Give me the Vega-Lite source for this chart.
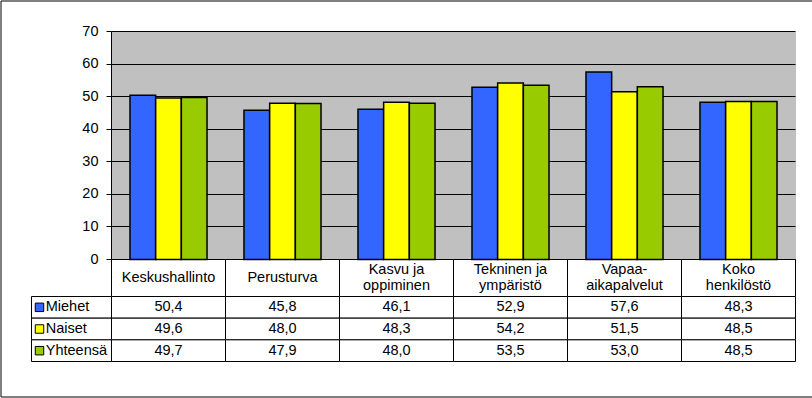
{
  "$schema": "https://vega.github.io/schema/vega-lite/v6.json",
  "width": 811.5,
  "height": 396,
  "autosize": {"type": "none"},
  "padding": {"left": 0.5, "top": 0.5, "right": 0, "bottom": 1.5},
  "background": "white",
  "data": {
    "values": [
      {"category": "Keskushallinto", "series": "Miehet", "value": 50.4},
      {"category": "Keskushallinto", "series": "Naiset", "value": 49.6},
      {"category": "Keskushallinto", "series": "Yhteensä", "value": 49.7},
      {"category": "Perusturva", "series": "Miehet", "value": 45.8},
      {"category": "Perusturva", "series": "Naiset", "value": 48.0},
      {"category": "Perusturva", "series": "Yhteensä", "value": 47.9},
      {"category": "Kasvu ja\noppiminen", "series": "Miehet", "value": 46.1},
      {"category": "Kasvu ja\noppiminen", "series": "Naiset", "value": 48.3},
      {"category": "Kasvu ja\noppiminen", "series": "Yhteensä", "value": 48.0},
      {"category": "Tekninen ja\nympäristö", "series": "Miehet", "value": 52.9},
      {"category": "Tekninen ja\nympäristö", "series": "Naiset", "value": 54.2},
      {"category": "Tekninen ja\nympäristö", "series": "Yhteensä", "value": 53.5},
      {"category": "Vapaa-\naikapalvelut", "series": "Miehet", "value": 57.6},
      {"category": "Vapaa-\naikapalvelut", "series": "Naiset", "value": 51.5},
      {"category": "Vapaa-\naikapalvelut", "series": "Yhteensä", "value": 53.0},
      {"category": "Koko\nhenkilöstö", "series": "Miehet", "value": 48.3},
      {"category": "Koko\nhenkilöstö", "series": "Naiset", "value": 48.5},
      {"category": "Koko\nhenkilöstö", "series": "Yhteensä", "value": 48.5}
    ]
  },
  "layer": [
    {
      "mark": {"type": "point", "opacity": 0},
      "encoding": {
        "x": {
          "field": "category", "type": "nominal",
          "scale": {"type": "band", "domain": ["Keskushallinto", "Perusturva", "Kasvu ja\noppiminen", "Tekninen ja\nympäristö", "Vapaa-\naikapalvelut", "Koko\nhenkilöstö"], "range": [111, 795], "paddingInner": 0, "paddingOuter": 0},
          "axis": {"orient": "bottom", "grid": true, "gridColor": "#C0C0C0", "gridWidth": 115, "gridOpacity": 1, "ticks": false, "labels": false, "domain": false, "title": null}
        },
        "y": {"datum": 0, "type": "quantitative", "scale": {"domain": [0, 70], "range": [137, 365], "nice": false}, "axis": null}
      }
    },
    {
      "mark": {"type": "bar", "stroke": "black", "strokeWidth": 1.5},
      "encoding": {
        "x": {
          "field": "category", "type": "nominal",
          "scale": {"type": "band", "domain": ["Keskushallinto", "Perusturva", "Kasvu ja\noppiminen", "Tekninen ja\nympäristö", "Vapaa-\naikapalvelut", "Koko\nhenkilöstö"], "range": [111, 795], "paddingInner": 0, "paddingOuter": 0},
          "axis": {
            "orient": "bottom", "offset": -137, "title": null, "grid": false,
            "domain": true, "domainColor": "black", "domainWidth": 1,
            "ticks": true, "tickBand": "extent", "tickSize": 37, "tickColor": "black", "tickWidth": 1,
            "labels": false
          }
        },
        "xOffset": {"field": "series", "type": "nominal", "scale": {"domain": ["Miehet", "Naiset", "Yhteensä"], "paddingInner": 0, "paddingOuter": 0.72}},
        "y": {
          "field": "value", "type": "quantitative",
          "scale": {"domain": [0, 70], "range": [259, 31], "nice": false, "zero": true},
          "axis": {
            "orient": "left", "offset": -111, "title": null, "values": [0, 10, 20, 30, 40, 50, 60, 70],
            "grid": true, "gridColor": "black", "gridWidth": 1, "gridOpacity": 1,
            "domain": true, "domainColor": "black", "ticks": true, "tickSize": 5, "tickColor": "black",
            "labelFontSize": 14.5, "labelColor": "black", "labelPadding": 8
          }
        },
        "color": {"field": "series", "type": "nominal", "scale": {"domain": ["Miehet", "Naiset", "Yhteensä"], "range": ["#3366FF", "#FFFF00", "#99CC00"]}, "legend": null}
      }
    },
    {
      "transform": [{"filter": "datum.series === 'Miehet'"}],
      "encoding": {
        "x": {
          "field": "category", "type": "nominal",
          "scale": {"type": "band", "domain": ["Keskushallinto", "Perusturva", "Kasvu ja\noppiminen", "Tekninen ja\nympäristö", "Vapaa-\naikapalvelut", "Koko\nhenkilöstö"], "range": [111, 795], "paddingInner": 0, "paddingOuter": 0},
          "axis": null
        },
        "y": {"datum": "hdr", "type": "nominal", "scale": {"type": "band", "domain": ["hdr"], "range": [259, 296], "paddingInner": 0, "paddingOuter": 0}, "axis": null},
        "text": {"field": "category", "type": "nominal"}
      },
      "layer": [
        {
          "transform": [{"filter": "indexof(datum.category, '\\n') < 0"}],
          "mark": {"type": "text", "fontSize": 14.5, "color": "black", "baseline": "middle", "lineBreak": "\n"}
        },
        {
          "transform": [{"filter": "indexof(datum.category, '\\n') >= 0"}],
          "mark": {"type": "text", "fontSize": 14.5, "color": "black", "baseline": "middle", "lineBreak": "\n", "lineHeight": 16.5, "dy": -8.25}
        }
      ]
    },
    {
      "encoding": {
        "x": {
          "field": "category", "type": "nominal",
          "scale": {"type": "band", "domain": ["Keskushallinto", "Perusturva", "Kasvu ja\noppiminen", "Tekninen ja\nympäristö", "Vapaa-\naikapalvelut", "Koko\nhenkilöstö"], "range": [111, 795], "paddingInner": 0, "paddingOuter": 0},
          "axis": null
        },
        "y": {"field": "series", "type": "nominal", "scale": {"type": "band", "domain": ["Miehet", "Naiset", "Yhteensä"], "range": [296, 361], "paddingInner": 0, "paddingOuter": 0}, "axis": null}
      },
      "layer": [
        {"mark": {"type": "rect", "fill": "white", "stroke": "black", "strokeWidth": 1}},
        {"mark": {"type": "text", "fontSize": 14.5, "color": "black"}, "encoding": {"text": {"field": "value", "type": "quantitative", "format": ".1f"}}}
      ]
    },
    {
      "transform": [{"filter": "datum.category === 'Keskushallinto'"}],
      "encoding": {
        "y": {"field": "series", "type": "nominal", "scale": {"type": "band", "domain": ["Miehet", "Naiset", "Yhteensä"], "range": [296, 361], "paddingInner": 0, "paddingOuter": 0}, "axis": null}
      },
      "layer": [
        {
          "mark": {"type": "rect", "fill": "white", "stroke": "black", "strokeWidth": 1},
          "encoding": {"x": {"datum": "lbl", "type": "nominal", "scale": {"type": "band", "domain": ["lbl"], "range": [31, 111], "paddingInner": 0, "paddingOuter": 0}, "axis": null}}
        },
        {
          "mark": {"type": "point", "shape": "square", "filled": true, "size": 72, "stroke": "black", "strokeWidth": 1, "opacity": 1},
          "encoding": {
            "x": {"datum": "lbl", "type": "nominal", "bandPosition": 0.1},
            "color": {"field": "series", "type": "nominal", "scale": {"domain": ["Miehet", "Naiset", "Yhteensä"], "range": ["#3366FF", "#FFFF00", "#99CC00"]}, "legend": null}
          }
        },
        {
          "mark": {"type": "text", "align": "left", "fontSize": 14.5, "color": "black"},
          "encoding": {
            "x": {"datum": "lbl", "type": "nominal", "bandPosition": 0.178},
            "text": {"field": "series", "type": "nominal"}
          }
        }
      ]
    }
  ],
  "resolve": {
    "scale": {"x": "independent", "y": "independent", "xOffset": "independent"},
    "axis": {"x": "independent", "y": "independent"}
  },
  "config": {
    "font": "Liberation Sans",
    "locale": {"number": {"decimal": ",", "thousands": "\u00a0", "grouping": [3], "currency": ["", " €"]}},
    "view": {"stroke": "black", "strokeWidth": 1, "fill": "white"},
    "axis": {"translate": 0, "labelFont": "Liberation Sans"},
    "text": {"font": "Liberation Sans"}
  }
}
